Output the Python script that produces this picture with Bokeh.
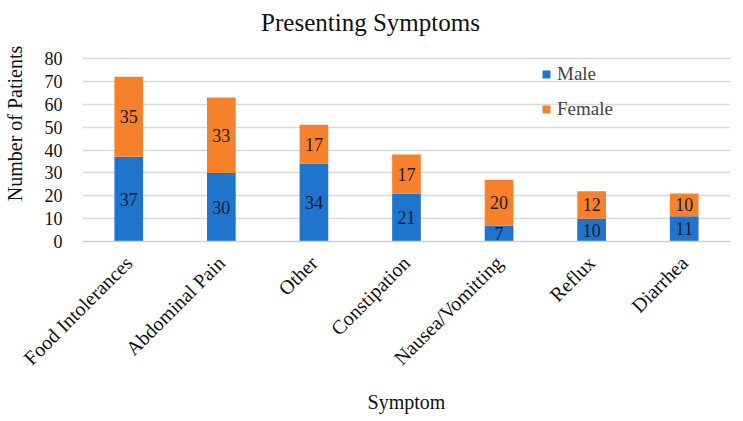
from bokeh.plotting import figure
from bokeh.models import ColumnDataSource, LabelSet, Legend, LegendItem, FactorRange, Label, Range1d
from bokeh.embed import file_html
from bokeh.resources import INLINE
import math

symptoms = ["Food Intolerances", "Abdominal Pain", "Other", "Constipation",
            "Nausea/Vomitting", "Reflux", "Diarrhea"]
male = [37, 30, 34, 21, 7, 10, 11]
female = [35, 33, 17, 17, 20, 12, 10]
y_ticks = [0, 10, 20, 30, 40, 50, 60, 70, 80]
chart_title = "Presenting Symptoms"

BLUE = "#1F74CD"
ORANGE = "#F7812B"
FONT = "Liberation Serif"

# layout: plot area (0..80) spans 183 px; frame extended upward to hold the title
PX_PER_UNIT = 183 / 80
FRAME_H = 236
Y_END = FRAME_H / PX_PER_UNIT

src = ColumnDataSource(dict(
    x=symptoms, Male=male, Female=female,
    male_mid=[m / 2 for m in male],
    female_mid=[m + f / 2 for m, f in zip(male, female)],
    male_txt=[str(v) for v in male],
    female_txt=[str(v) for v in female],
))

p = figure(x_range=FactorRange(*symptoms, range_padding=0), y_range=Range1d(0, Y_END),
           width=727, height=405, output_backend="svg", toolbar_location=None,
           frame_width=648, frame_height=FRAME_H,
           min_border_left=82, min_border_right=2, min_border_top=5, min_border_bottom=10)

rs = p.vbar_stack(["Male", "Female"], x="x", width=0.31, color=[BLUE, ORANGE],
                  source=src, line_color=None)

for ycol, tcol in (("male_mid", "male_txt"), ("female_mid", "female_txt")):
    p.add_layout(LabelSet(x="x", y=ycol, text=tcol, source=src,
                          text_align="center", text_baseline="middle",
                          text_font=FONT, text_font_size="18px", text_color="#1c1c2a"))

legend = Legend(items=[LegendItem(label="Male", renderers=[rs[0]]),
                       LegendItem(label="Female", renderers=[rs[1]])],
                location=(459, 121), orientation="vertical",
                background_fill_alpha=0, border_line_color=None,
                label_text_font=FONT, label_text_font_size="19px",
                label_height=20, glyph_width=10, glyph_height=10, spacing=13, padding=0,
                margin=0, label_standoff=6)
p.add_layout(legend)

title = Label(x=288, x_units="screen", y=(241 - 22) / PX_PER_UNIT, y_units="data",
              text=chart_title, text_align="center", text_baseline="middle",
              text_font=FONT, text_font_size="25px", text_color="#111111")
p.add_layout(title)

p.yaxis.ticker = y_ticks
p.yaxis.axis_label = "Number of Patients"
p.xaxis.axis_label = "Symptom"
for ax in (p.xaxis, p.yaxis):
    ax.axis_label_text_font = FONT
    ax.axis_label_text_font_size = "20px"
    ax.axis_label_text_font_style = "normal"
    ax.axis_label_text_color = "#111111"
    ax.major_label_text_font = FONT
    ax.major_label_text_font_size = "18px"
    ax.major_label_text_color = "#111111"
    ax.major_tick_line_color = None
    ax.minor_tick_line_color = None
p.xaxis.major_label_text_font_size = "20px"
p.xaxis.major_label_standoff = 12
p.yaxis.major_label_standoff = 14
p.yaxis.axis_line_color = None
p.xaxis.axis_line_color = "#d0d0d0"
p.xaxis.axis_line_width = 1.5
p.xaxis.major_label_orientation = math.pi / 4
p.xaxis.axis_label_standoff = 11
p.yaxis.axis_label_standoff = 16
p.yaxis.axis_label_text_align = "center"
p.xgrid.grid_line_color = None
p.ygrid.grid_line_color = "#d9d9d9"
p.ygrid.grid_line_width = 1.5
p.outline_line_color = None

open("out.html", "w").write(file_html(p, INLINE))
